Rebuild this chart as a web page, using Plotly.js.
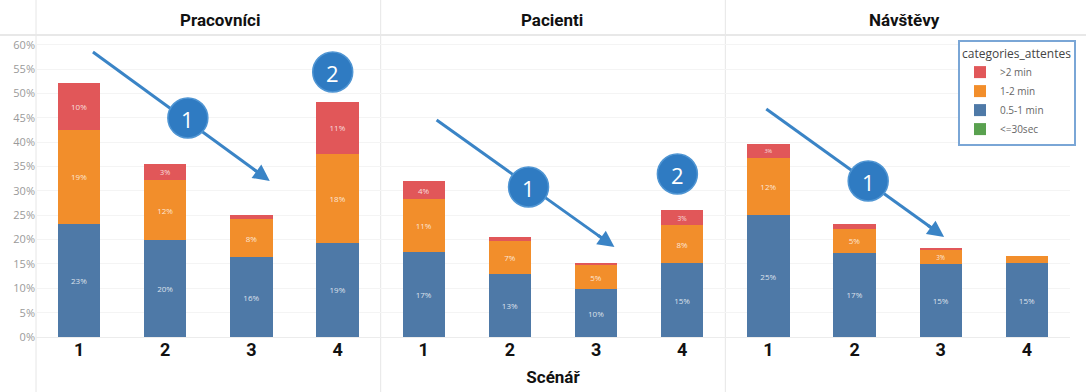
<!DOCTYPE html>
<html><head><meta charset="utf-8">
<script src="https://cdn.plot.ly/plotly-3.0.1.min.js"></script>
<style>html,body{margin:0;padding:0;background:#fff}#chart{width:1087px;height:392px}</style>
</head><body><div id="chart"></div>
<script>
// ---- data ----
const panels = ['Pracovníci', 'Pacienti', 'Návštěvy'];
const scenarios = ['1', '2', '3', '4'];
const seriesNames = ['<=30sec', '0.5-1 min', '1-2 min', '>2 min'];
const under30sec = [[0, 0, 0, 0], [0, 0, 0, 0], [0, 0, 0, 0]];
const halfToOneMin = [[23.2, 19.9, 16.4, 19.3], [17.4, 12.9, 9.8, 15.1], [25.0, 17.3, 14.9, 15.1]];
const oneToTwoMin = [[19.3, 12.3, 7.8, 18.3], [10.9, 6.8, 5.0, 7.8], [11.8, 4.9, 3.0, 1.5]];
const overTwoMin = [[9.7, 3.3, 0.8, 10.7], [3.7, 0.8, 0.3, 3.1], [2.8, 1.1, 0.3, 0]];
const legendTitle = 'categories_attentes';
const xTitle = 'Scénář';
const markerNumbers = ['1', '2', '1', '2', '1'];

// ---- styles ----
const seriesColors = ['#59a14f', '#4e79a7', '#f28e2b', '#e15759'];
const W = 1087, H = 392, L = 36, R = 16, T = 35, B = 55;
const pw = W - L - R, ph = H - T - B;
const px = x => (x - L) / pw;
const py = y => (H - B - y) / ph;

const seriesData = [under30sec, halfToOneMin, oneToTwoMin, overTwoMin];
const axisIds = ['x', 'x2', 'x3'];
const traces = [];
panels.forEach((p, pi) => {
  seriesData.forEach((sd, si) => {
    const vals = sd[pi];
    traces.push({
      type: 'bar',
      name: seriesNames[si],
      legendgroup: seriesNames[si],
      showlegend: pi === 0,
      x: scenarios,
      y: vals,
      xaxis: axisIds[pi],
      yaxis: 'y',
      marker: {color: seriesColors[si], line: {width: 0}},
      text: vals.map(v => v >= 2.5 ? Math.round(v) + '%' : ''),
      textposition: 'inside',
      insidetextanchor: 'middle',
      textangle: 0,
      textfont: {size: 8, color: 'rgba(255,255,255,0.8)', family: 'Open Sans'},
      hoverinfo: 'skip'
    });
  });
});

const tickFont = {family: 'Roboto', size: 18, weight: 700, color: '#111'};
const xBase = {
  type: 'category', range: [-0.5, 3.5], anchor: 'y', showgrid: false, zeroline: false,
  showline: false, ticks: '', tickfont: tickFont, fixedrange: true
};

// annotation geometry (pixel positions of decorations, not data)
const arrows = [
  {x0: 93, y0: 52, x1: 270, y1: 181},
  {x0: 437, y0: 120, x1: 615, y1: 247},
  {x0: 767, y0: 109, x1: 945, y1: 237}
];
const circles = [
  {cx: 188, cy: 118}, {cx: 333, cy: 72},
  {cx: 529, cy: 187}, {cx: 678, cy: 174},
  {cx: 869, cy: 181}
];
const arrowColor = '#3a84c6';
const circleColor = '#2f7bc2';

const shapes = [];
const annotations = [];
// panel dividers
[0, 1/3, 2/3].forEach(x => shapes.push({type: 'line', xref: 'paper', yref: 'paper', x0: x, x1: x, y0: py(H), y1: py(0), line: {color: '#e6e6e6', width: 1}, layer: 'below'}));
shapes.push({type: 'line', xref: 'paper', yref: 'paper', x0: px(0), x1: px(W), y0: 1, y1: 1, line: {color: '#e8e8e8', width: 2}, layer: 'below'});

arrows.forEach(a => {
  const dx = a.x1 - a.x0, dy = a.y1 - a.y0, len = Math.hypot(dx, dy);
  const ux = dx / len, uy = dy / len;
  shapes.push({type: 'line', xref: 'paper', yref: 'paper', x0: px(a.x0), y0: py(a.y0), x1: px(a.x1 - ux * 8), y1: py(a.y1 - uy * 8), line: {color: arrowColor, width: 3}});
  annotations.push({xref: 'paper', yref: 'paper', x: px(a.x1), y: py(a.y1), ax: -ux * 22, ay: -uy * 22, text: '', showarrow: true, arrowhead: 2, arrowsize: 1.1, arrowwidth: 3, arrowcolor: arrowColor});
});
circles.forEach((c, i) => {
  shapes.push({type: 'circle', xref: 'paper', yref: 'paper', xsizemode: 'pixel', ysizemode: 'pixel', xanchor: px(c.cx), yanchor: py(c.cy), x0: -20, x1: 20, y0: -20, y1: 20, fillcolor: circleColor, line: {color: '#4f95d3', width: 1.5}});
  annotations.push({xref: 'paper', yref: 'paper', x: px(c.cx), y: py(c.cy + 1), xanchor: 'center', yanchor: 'middle', text: markerNumbers[i], showarrow: false, font: {family: 'Open Sans', size: 22, color: '#ffffff'}});
});
// panel titles
const titleX = [220, 552, 905];
panels.forEach((p, i) => annotations.push({xref: 'paper', yref: 'paper', x: px(titleX[i]), y: py(20), xanchor: 'center', yanchor: 'middle', text: p, showarrow: false, font: {family: 'Roboto', size: 17, weight: 700, color: '#111'}}));

const layout = {
  width: W, height: H,
  margin: {l: L, r: R, t: T, b: B, pad: 0},
  paper_bgcolor: '#fff', plot_bgcolor: '#fff',
  barmode: 'stack', bargap: 0.51,
  showlegend: true,
  legend: {
    x: px(1076), xanchor: 'right', y: py(40), yanchor: 'top',
    bordercolor: '#7aa6d6', borderwidth: 2, bgcolor: '#fff',
    traceorder: 'reversed',
    font: {family: 'Open Sans', size: 10, color: '#666'},
    title: {text: legendTitle, font: {family: 'Open Sans', size: 12, color: '#444'}}
  },
  xaxis: Object.assign({}, xBase, {domain: [0, 1/3]}),
  xaxis2: Object.assign({}, xBase, {domain: [1/3, 2/3], title: {text: xTitle, font: {family: 'Roboto', size: 17, weight: 700, color: '#111'}, standoff: 12}, automargin: false}),
  xaxis3: Object.assign({}, xBase, {domain: [2/3, 1]}),
  yaxis: {
    range: [0, 62], dtick: 5, ticksuffix: '%', showgrid: true, gridcolor: '#f4f4f4',
    zeroline: true, zerolinecolor: '#ececec', showline: false, ticks: '',
    tickfont: {family: 'Open Sans', size: 11, color: '#9a9a9a'}, fixedrange: true
  },
  shapes: shapes,
  annotations: annotations
};

Plotly.newPlot('chart', traces, layout, {displayModeBar: false, staticPlot: true});
</script>
</body></html>
